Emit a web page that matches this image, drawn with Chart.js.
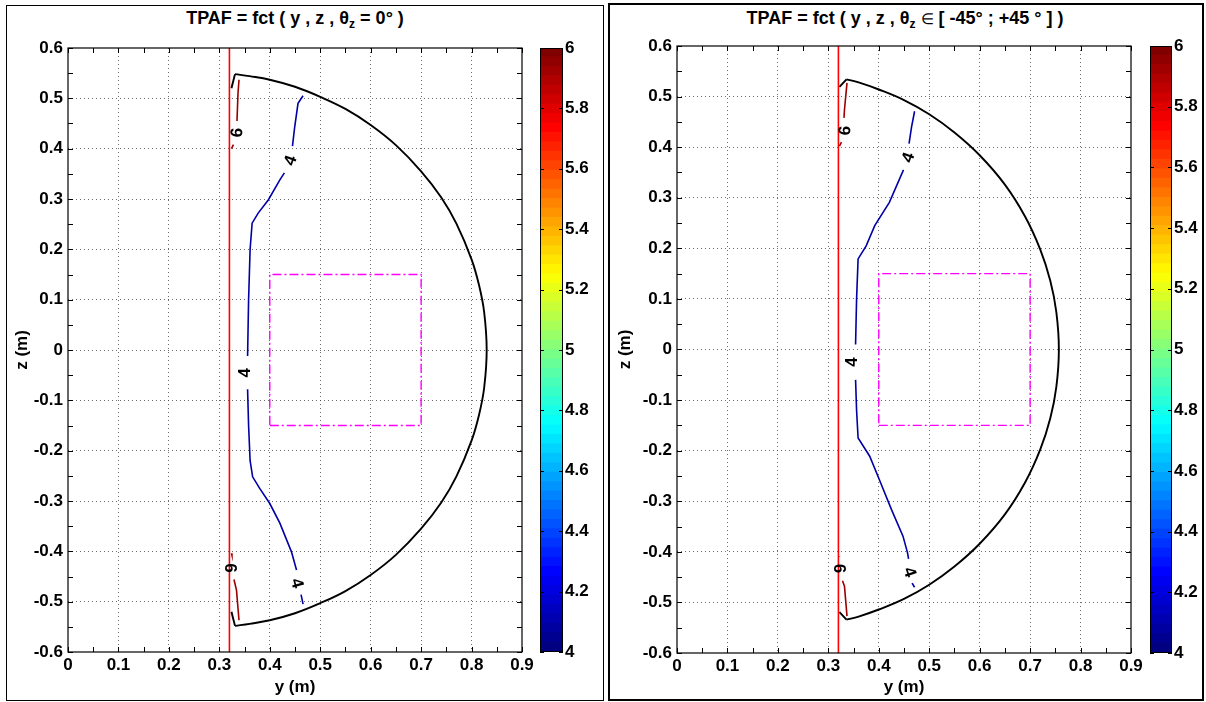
<!DOCTYPE html>
<html>
<head>
<meta charset="utf-8">
<script src="https://cdn.jsdelivr.net/npm/chart.js@4.4.1/dist/chart.umd.min.js"></script>
<style>
  body { margin:0; width:1206px; height:702px; background:#fff; position:relative; overflow:hidden;
         font-family:"Liberation Sans", Arial, sans-serif; }
  .panel { position:absolute; box-sizing:border-box; border:1px solid #000; }
  canvas { position:absolute; }
  .title { position:absolute; font-weight:bold; font-size:18px; white-space:nowrap; transform:translateX(-50%); }
  .title sub { font-size:12px; vertical-align:-4px; line-height:0; }
  .title .el { font-weight:normal; font-size:15px; }
</style>
</head>
<body>
<div class="panel" style="left:6px;top:5px;width:598px;height:696px"></div>
<div class="panel" style="left:608px;top:3px;width:596px;height:698px;border-width:2px"></div>

<div class="title" style="left:295px;top:8px">TPAF = fct ( y , z , θ<sub>z</sub> = 0° )</div>
<div class="title" style="left:905px;top:8px">TPAF = fct ( y , z , θ<sub>z</sub> <span class="el">∈</span> [ -45° ; +45 ° ] )</div>

<canvas id="mainL" width="540" height="693" style="left:7px;top:6px"></canvas>
<canvas id="barL" width="72" height="693" style="left:530px;top:6px"></canvas>
<canvas id="mainR" width="540" height="694" style="left:610px;top:5px"></canvas>
<canvas id="barR" width="61" height="694" style="left:1140px;top:5px"></canvas>

<script>
// axis ticks
var yTicks = [0, 0.1, 0.2, 0.3, 0.4, 0.5, 0.6, 0.7, 0.8, 0.9];
var zTicks = [-0.6, -0.5, -0.4, -0.3, -0.2, -0.1, 0, 0.1, 0.2, 0.3, 0.4, 0.5, 0.6];
var cbTicks = [4, 4.2, 4.4, 4.6, 4.8, 5, 5.2, 5.4, 5.6, 5.8, 6];

// shared: wall line and target box, points are [y, z]
var wallLine = [[0.32, -0.6], [0.32, 0.6]];
var targetBox = [[0.4, -0.15], [0.7, -0.15], [0.7, 0.15], [0.4, 0.15], [0.4, -0.15]];

// left: theta_z = 0
var leftCorners = [
  [[0.324,0.52],[0.331,0.548]],
  [[0.331,-0.548],[0.324,-0.52]]
];
var leftArc = [[0.331,0.548],[0.36,0.544],[0.40,0.537],[0.45,0.523],[0.50,0.503],[0.55,0.479],
  [0.60,0.447],[0.65,0.407],[0.70,0.355],[0.74,0.303],[0.77,0.251],[0.80,0.18],[0.815,0.128],[0.825,0.075],[0.83,0],
  [0.825,-0.075],[0.815,-0.128],[0.80,-0.18],[0.77,-0.251],[0.74,-0.303],[0.70,-0.355],[0.65,-0.407],[0.60,-0.447],
  [0.55,-0.479],[0.50,-0.503],[0.45,-0.523],[0.40,-0.537],[0.36,-0.544],[0.331,-0.548]];
var leftC4 = [
  [[0.466,0.505],[0.456,0.49],[0.4495,0.444],[0.445,0.405]],
  [[0.429,0.352],[0.42,0.338],[0.397,0.298],[0.377,0.272],[0.365,0.252],[0.361,0.2],[0.358,0.1],[0.356,-0.012]],
  [[0.356,-0.078],[0.358,-0.15],[0.361,-0.22],[0.366,-0.252],[0.38,-0.275],[0.40,-0.305],[0.42,-0.344],[0.443,-0.401],[0.453,-0.437]],
  [[0.462,-0.486],[0.466,-0.505]]
];
var leftC6 = [
  [[0.339,0.537],[0.337,0.51],[0.335,0.455]],
  [[0.328,0.408],[0.324,0.40]],
  [[0.324,-0.404],[0.325,-0.408]],
  [[0.329,-0.456],[0.334,-0.477],[0.339,-0.537]]
];
var leftLabels = [['4', 0.44, 0.377, -70], ['4', 0.35, -0.045, -90], ['4', 0.455, -0.463, 75],
  ['6', 0.334, 0.432, -85], ['6', 0.322, -0.433, 90]];

// right: theta_z in [-45 ; +45]
var rightCorners = [
  [[0.322,0.519],[0.336,0.534]],
  [[0.336,-0.534],[0.322,-0.519]]
];
var rightArc = [[0.336,0.534],[0.36,0.528],[0.40,0.514],[0.45,0.493],[0.50,0.465],[0.55,0.429],
  [0.60,0.384],[0.65,0.326],[0.69,0.263],[0.72,0.198],[0.74,0.136],[0.752,0.074],[0.757,0],[0.752,-0.074],
  [0.74,-0.136],[0.72,-0.198],[0.69,-0.263],[0.65,-0.326],[0.60,-0.384],[0.55,-0.429],[0.50,-0.465],[0.45,-0.493],
  [0.40,-0.514],[0.36,-0.528],[0.336,-0.534]];
var rightC4 = [
  [[0.471,0.471],[0.465,0.44],[0.460,0.407]],
  [[0.449,0.355],[0.421,0.291],[0.392,0.245],[0.375,0.205],[0.359,0.179],[0.356,0.1],[0.354,0.01]],
  [[0.354,-0.06],[0.356,-0.12],[0.359,-0.175],[0.382,-0.211],[0.401,-0.257],[0.425,-0.316],[0.448,-0.369],[0.457,-0.402],[0.459,-0.414]],
  [[0.466,-0.462],[0.471,-0.47]]
];
var rightC6 = [
  [[0.337,0.527],[0.332,0.474],[0.331,0.458]],
  [[0.326,0.41],[0.322,0.402]],
  [[0.322,-0.409],[0.322,-0.41]],
  [[0.328,-0.457],[0.332,-0.468],[0.337,-0.527]]
];
var rightLabels = [['4', 0.4575, 0.38, -70], ['4', 0.346, -0.025, -90], ['4', 0.462, -0.44, 72],
  ['6', 0.332, 0.433, -85], ['6', 0.322, -0.433, 90]];

var FONT = 'Liberation Sans, Arial, sans-serif';
var C4 = '#0000a6', C6 = '#9c0000';

function jet(t) {
  var c = function (v) { return Math.round(255 * Math.max(0, Math.min(1, v))); };
  return 'rgb(' + c(1.5 - Math.abs(4 * t - 3)) + ',' + c(1.5 - Math.abs(4 * t - 2)) + ',' + c(1.5 - Math.abs(4 * t - 1)) + ')';
}

function pts(arr) { return arr.map(function (p) { return { x: p[0], y: p[1] }; }); }

function line(arr, color, width, dash, tension) {
  return { data: pts(arr), borderColor: color, borderWidth: width, borderDash: dash || [],
           showLine: true, pointRadius: 0, fill: false, tension: tension || 0 };
}

// inward ticks + full box, then contour labels
var frame = {
  id: 'frame',
  afterDatasetsDraw: function (chart) {
    var ctx = chart.ctx, a = chart.chartArea, x = chart.scales.x, y = chart.scales.y;
    var labels = chart.options.plugins.frame.labels || [];
    ctx.save();
    ctx.fillStyle = '#000';
    ctx.font = 'bold 17px ' + FONT;
    ctx.textAlign = 'center';
    ctx.textBaseline = 'middle';
    labels.forEach(function (l) {
      ctx.save();
      ctx.translate(x.getPixelForValue(l[1]), y.getPixelForValue(l[2]));
      ctx.rotate(l[3] * Math.PI / 180);
      ctx.fillText(l[0], 0, 1);
      ctx.restore();
    });
    ctx.strokeStyle = '#000';
    ctx.lineWidth = 1;
    ctx.beginPath();
    var i, px;
    for (i = 0; i <= 18; i++) {
      px = Math.round(x.getPixelForValue(i * 0.05)) + 0.5;
      ctx.moveTo(px, a.bottom); ctx.lineTo(px, a.bottom - 5);
      ctx.moveTo(px, a.top); ctx.lineTo(px, a.top + 5);
    }
    for (i = 0; i <= 24; i++) {
      px = Math.round(y.getPixelForValue(-0.6 + i * 0.05)) + 0.5;
      ctx.moveTo(a.left, px); ctx.lineTo(a.left + 5, px);
      ctx.moveTo(a.right, px); ctx.lineTo(a.right - 5, px);
    }
    ctx.stroke();
    ctx.lineWidth = 1.2;
    ctx.strokeRect(a.left, a.top, a.right - a.left, a.bottom - a.top);
    ctx.restore();
  }
};

function gridColor(ctx) {
  var v = ctx.tick && ctx.tick.value;
  var s = ctx.scale;
  return (v === s.min || v === s.max) ? 'rgba(0,0,0,0)' : 'rgba(60,60,60,0.75)';
}

function makeMain(id, corners, arc, c4, c6, labels, lay) {
  var ds = [line(wallLine, '#ff0000', 1.6)];
  c6.forEach(function (s) { ds.push(line(s, C6, 1.6)); });
  c4.forEach(function (s) { ds.push(line(s, C4, 1.6)); });
  corners.forEach(function (s) { ds.push(line(s, '#000', 1.9)); });
  ds.push(line(arc, '#000', 1.9, null, 0.4));
  ds.push(line(targetBox, '#ff00ff', 1.4, [9, 3, 2, 3]));
  var tickFont = { family: FONT, size: 17, weight: 'bold' };
  return new Chart(document.getElementById(id), {
    type: 'scatter',
    data: { datasets: ds },
    options: {
      responsive: false, animation: false,
      layout: { padding: { top: lay.top, right: lay.right, left: 0, bottom: 0 } },
      plugins: { legend: { display: false }, tooltip: { enabled: false }, frame: { labels: labels } },
      scales: {
        x: {
          type: 'linear', min: 0, max: 0.9,
          afterBuildTicks: function (s) { s.ticks = yTicks.map(function (v) { return { value: v }; }); },
          afterFit: function (s) { s.height = lay.bottom; s.paddingLeft = 0; s.paddingRight = 0; },
          ticks: { color: '#000', font: tickFont, padding: 3, maxRotation: 0, autoSkip: false,
                   callback: function (v) { return String(v); } },
          grid: { color: gridColor, drawTicks: false, lineWidth: 1 },
          border: { display: false, dash: [1, 3] },
          title: { display: true, text: 'y (m)', color: '#000', font: tickFont, padding: { top: 0, bottom: 1 } }
        },
        y: {
          type: 'linear', min: -0.6, max: 0.6,
          afterBuildTicks: function (s) { s.ticks = zTicks.map(function (v) { return { value: v }; }); },
          afterFit: function (s) { s.width = lay.left; s.paddingTop = 0; s.paddingBottom = 0; },
          ticks: { color: '#000', font: tickFont, padding: 5, autoSkip: false,
                   callback: function (v) { return String(v); } },
          grid: { color: gridColor, drawTicks: false, lineWidth: 1 },
          border: { display: false, dash: [1, 3] },
          title: { display: true, text: 'z (m)', color: '#000', font: tickFont, padding: { top: 5, bottom: 0 } }
        }
      }
    },
    plugins: [frame]
  });
}

var cbFrame = {
  id: 'cbFrame',
  afterDatasetsDraw: function (chart) {
    var ctx = chart.ctx, a = chart.chartArea, y = chart.scales.y;
    ctx.save();
    ctx.strokeStyle = '#000';
    ctx.lineWidth = 1;
    ctx.beginPath();
    cbTicks.forEach(function (v) {
      var py = Math.round(y.getPixelForValue(v)) + 0.5;
      ctx.moveTo(a.left, py); ctx.lineTo(a.left + 4, py);
      ctx.moveTo(a.right, py); ctx.lineTo(a.right - 4, py);
    });
    ctx.stroke();
    ctx.strokeRect(a.left + 0.5, a.top + 0.5, a.right - a.left - 1, a.bottom - a.top - 1);
    ctx.restore();
  }
};

function makeBar(id, lay) {
  var n = 64, ds = [];
  for (var i = 0; i < n; i++) {
    var lo = 4 + 2 * i / n, hi = 4 + 2 * (i + 1) / n;
    ds.push({ data: [[lo, hi + 0.002]], backgroundColor: jet(i / (n - 1)), borderWidth: 0,
              grouped: false, barPercentage: 1, categoryPercentage: 1 });
  }
  return new Chart(document.getElementById(id), {
    type: 'bar',
    data: { labels: ['TPAF'], datasets: ds },
    options: {
      responsive: false, animation: false,
      layout: { padding: { top: lay.top, bottom: lay.bottom, left: lay.left, right: 0 } },
      plugins: { legend: { display: false }, tooltip: { enabled: false } },
      scales: {
        x: { display: false },
        y: {
          position: 'right', min: 4, max: 6,
          afterBuildTicks: function (s) { s.ticks = cbTicks.map(function (v) { return { value: v }; }); },
          afterFit: function (s) { s.width = lay.axis; s.paddingTop = 0; s.paddingBottom = 0; },
          ticks: { color: '#000', font: { family: FONT, size: 17, weight: 'bold' }, padding: 2, autoSkip: false,
                   callback: function (v) { return String(v); } },
          grid: { display: false, drawTicks: false },
          border: { display: false }
        }
      }
    },
    plugins: [cbFrame]
  });
}

// canvas left 7: plot 68..522 ; canvas left 610: plot 677..1131
makeMain('mainL', leftCorners, leftArc, leftC4, leftC6, leftLabels, { top: 42, right: 25, left: 61, bottom: 47 });
makeMain('mainR', rightCorners, rightArc, rightC4, rightC6, rightLabels, { top: 41, right: 19, left: 67, bottom: 46 });
makeBar('barL', { top: 42, bottom: 47, left: 10, axis: 39 });
makeBar('barR', { top: 41, bottom: 46, left: 10, axis: 29 });
</script>
</body>
</html>
